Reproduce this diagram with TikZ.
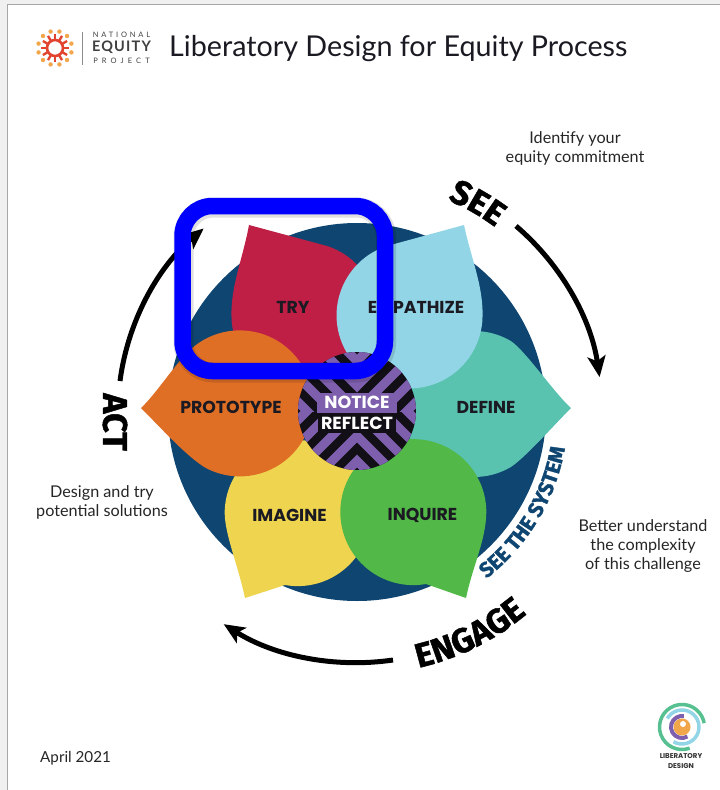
\documentclass[tikz,border=0pt]{standalone}
\usepackage{fontspec}
\usetikzlibrary{arrows.meta,decorations.text}
\setmainfont{Lato}
\newfontfamily\labelfont{Poppins}
\newfontfamily\bannerfont[BoldFeatures={FakeBold=1.4}]{Fira Sans}
\newcommand{\bannerbig}{\bannerfont\bfseries\fontsize{34}{34}\selectfont}
\newcommand{\bannersmall}{\bannerfont\bfseries\fontsize{21}{21}\selectfont\color{navyring}}

\definecolor{navyring}{HTML}{0F4571}
\definecolor{tryred}{HTML}{C01F45}
\definecolor{empathizeblue}{HTML}{92D5E6}
\definecolor{definegreen}{HTML}{59C3B0}
\definecolor{inquiregreen}{HTML}{52B848}
\definecolor{imagineyellow}{HTML}{EED44F}
\definecolor{prototypeorange}{HTML}{E06F26}
\definecolor{hubpurple}{HTML}{7E5FAE}
\definecolor{hubblack}{HTML}{120F17}
\definecolor{inkdark}{HTML}{1B1A22}
\definecolor{sunred}{HTML}{E2452F}
\definecolor{sunorange}{HTML}{F2A64A}

\tikzset{
  petallabel/.style={font=\labelfont\bfseries\fontsize{17.3}{17.3}\selectfont, text=inkdark, inner sep=0pt},
  sidenote/.style={font=\fontsize{16.2}{19}\selectfont, text=black!85, align=center, inner sep=0pt},
  cyclearrow/.style={line width=5pt, -{Stealth[length=21pt,width=18pt,inset=5pt]}},
  hublabel/.style={font=\labelfont\bfseries\fontsize{17.5}{17.5}\selectfont, text=white, minimum width=80pt, minimum height=20pt, inner sep=0pt},
  logoword/.style={font=\fontsize{7.5}{7.5}\selectfont\addfontfeature{LetterSpace=38}, text=black!75, inner sep=0pt}
}

\begin{document}
\begin{tikzpicture}[x=1pt,y=-1pt]

\useasboundingbox (0,0) rectangle (720,790);

% Page
\fill[black!6] (0,0) rectangle (720,790);
\fill[black!35] (6.5,4) rectangle (720,790);
\fill[white] (8,4.5) rectangle (720,790);

% Header
\begin{scope}[shift={(55,48)}]
  \draw[sunred, line width=2.6pt] (0,0) circle (8);
  \foreach \a in {0,30,...,330} {
    \draw[sunred, line width=2.4pt] (\a:8) -- (\a:14);
    \fill[sunorange] (\a+15:17) circle (2.2);
  }
\end{scope}
\draw[black!45, line width=0.8pt] (82,32) -- (82,65);
\node[logoword] (national) at (121.5,35) {NATIONAL};
\node[font=\fontsize{14.5}{14.5}\selectfont\bfseries\addfontfeature{LetterSpace=8}, text=black!75, inner sep=0pt] (equity) at (121.5,47.5) {EQUITY};
\node[logoword, font=\fontsize{7.5}{7.5}\selectfont\addfontfeature{LetterSpace=55}] (project) at (121.5,61) {PROJECT};
\node[anchor=west, font=\fontsize{28.7}{28.7}\selectfont, text=inkdark, inner sep=0pt] (title) at (169,49) {Liberatory Design for Equity Process};

% Ring
\coordinate (hub) at (357,412);
\fill[navyring] (hub) circle (189);

% Back petals
\fill[tryred] (249,225) -- (327,246) arc[start angle=-72, end angle=180, radius=73]
  .. controls (231,285) and (243,258) .. cycle;
\fill[definegreen] (571,408) .. controls (555,394) and (525,350) .. (510.5,340.8)
  arc[start angle=-60, end angle=-300, radius=73]
  .. controls (525,458) and (555,424) .. cycle;
\fill[imagineyellow] (245,598) -- (285,585) arc[start angle=100, end angle=-180, radius=73]
  .. controls (225,535) and (238,565) .. cycle;

% Front petals
\fill[empathizeblue] (464,225) -- (387,246) arc[start angle=252, end angle=0, radius=73]
  .. controls (483,285) and (471,258) .. cycle;
\fill[prototypeorange] (141,408) .. controls (156,394) and (175,364) .. (190,350)
  arc[start angle=227, end angle=477, radius=73]
  .. controls (188,458) and (160,427) .. cycle;
\fill[inquiregreen] (466,598) -- (426,584) arc[start angle=80, end angle=360, radius=73]
  .. controls (486,540) and (473,565) .. cycle;

% Hub with chevrons
\begin{scope}[shift={(357,411)}]
  \fill[hubblack] (0,0) circle (59);
  \clip (0,0) circle (59);
  \foreach \r in {0,90,180,270} {
    \begin{scope}[rotate=\r]
      \clip (0,0) rectangle (60,60);
      \foreach \s in {-50,-25,0,25,50}
        \draw[hubpurple, line width=9pt] (-10,-10+\s) -- (70,70+\s);
    \end{scope}
  }
\end{scope}
\node[hublabel, fill=hubpurple] (notice) at (357,402.5) {NOTICE};
\node[hublabel, fill=hubblack, minimum width=78pt] (reflect) at (357,423) {REFLECT};

% Petal labels
\node[petallabel] (try) at (293,307) {TRY};
\node[petallabel] (empathize) at (416,307) {EMPATHIZE};
\node[petallabel] (define) at (486,407) {DEFINE};
\node[petallabel] (inquire) at (422.5,515) {INQUIRE};
\node[petallabel] (imagine) at (289.5,515) {IMAGINE};
\node[petallabel] (prototype) at (231,407) {PROTOTYPE};

% Cycle arrows
\draw[cyclearrow] (516,226) arc[start angle=-49.5, end angle=-8.4, radius=246];
\draw[cyclearrow] (393,660) arc[start angle=81.7, end angle=122.2, radius=250];
\draw[cyclearrow] (120,381) arc[start angle=187.5, end angle=230, radius=240];

% Stage words
\path[decorate, decoration={text along path, text align=center, text={|\bannerbig|SEE}}]
  (439.5,196.5) arc[start angle=-69, end angle=-51, radius=231];
\path[decorate, decoration={text along path, text align=center, text={|\bannerbig|ENGAGE}}]
  (418,668) arc[start angle=77, end angle=50, radius=262];
\node[rotate=-90, font=\bannerbig, inner sep=0pt] (act) at (115,422) {ACT};
\path[decorate, decoration={text along path, text align=center, text={|\bannersmall|SEE THE SYSTEM}}]
  (484,580.5) arc[start angle=53, end angle=9, radius=211];

% Notes
\node[sidenote] (seenote) at (575,148) {Identify your\\equity commitment};
\node[sidenote] (systemnote) at (643,546.5) {Better understand\\the complexity\\of this challenge};
\node[sidenote] (actnote) at (102,502) {Design and try\\potential solutions};
\node[sidenote, font=\fontsize{15.2}{19}\selectfont, anchor=west] (date) at (40,758.5) {April 2021};

% Liberatory Design logo
\begin{scope}[shift={(682,727)}]
  \draw[definegreen!70!inquiregreen, line width=3.5pt] (70:22.5) arc[start angle=70, end angle=350, radius=22.5];
  \draw[empathizeblue, line width=3.5pt] (120:17) arc[start angle=120, end angle=-150, radius=17];
  \draw[hubpurple, line width=4pt] (60:11) arc[start angle=60, end angle=280, radius=11];
  \fill[sunorange] (0,0) circle (8.5);
  \fill[white] (1,-3) circle (3);
\end{scope}
\node[font=\labelfont\bfseries\fontsize{7}{9.5}\selectfont, text=black!80, align=center, inner sep=0pt] (logotext) at (681,761) {LIBERATORY\\DESIGN};

% Highlight box
\draw[black, opacity=0.12, line width=20pt, rounded corners=30pt] (183.5,207.5) rectangle (386,372.5);
\draw[blue, line width=16.5pt, rounded corners=30pt] (182.5,206) rectangle (385,371);

\end{tikzpicture}
\end{document}
